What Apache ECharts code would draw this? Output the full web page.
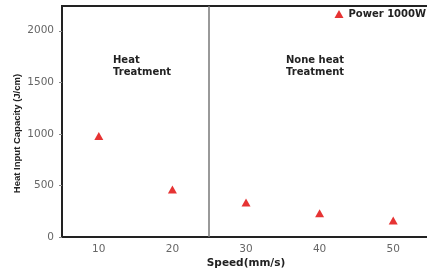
<!DOCTYPE html>
<html>
<head>
<meta charset="utf-8">
<script src="https://cdn.jsdelivr.net/npm/echarts@6/dist/echarts.min.js"></script>
<style>
  html, body { margin: 0; padding: 0; background: #fff; }
  #main { width: 427px; height: 271px; }
</style>
</head>
<body>
<div id="main"></div>
<script>
const speeds = [10, 20, 30, 40, 50];
const heatInput = [980, 460, 335, 230, 160];
const seriesName = "Power 1000W";
// boundary between the heat / none heat regions
const dividerSpeed = 25;

const chartDom = document.getElementById("main");
const myChart = echarts.init(chartDom);
let option;

const wideFont = "'DejaVu Sans', sans-serif";
const narrowFont = "'Liberation Sans Narrow', 'Liberation Sans', sans-serif";

option = {
  animation: false,
  grid: {
    left: 62,
    top: 6,
    right: -3,
    bottom: 34,
    outerBoundsMode: "none",
    show: true,
    borderColor: "#222",
    borderWidth: 2,
  },
  legend: {
    data: [{ name: seriesName, icon: "triangle" }],
    right: 0,
    top: 9,
    padding: [0, 1, 0, 0],
    itemWidth: 9,
    itemHeight: 8,
    itemGap: 4,
    textStyle: {
      fontFamily: wideFont,
      fontWeight: "bold",
      fontSize: 10,
      color: "#222",
    },
  },
  xAxis: [
    {
      // visible axis: labels at 10..50, ticks between them
      type: "category",
      data: speeds.map(String),
      boundaryGap: true,
      name: "Speed(mm/s)",
      nameLocation: "middle",
      nameGap: 21,
      nameMoveOverlap: false,
      nameTextStyle: {
        fontFamily: wideFont,
        fontWeight: "bold",
        fontSize: 10.5,
        color: "#222",
      },
      axisLine: { lineStyle: { color: "#222", width: 2 } },
      axisTick: { length: 3, lineStyle: { color: "#888" } },
      axisLabel: {
        fontFamily: wideFont,
        fontSize: 10.5,
        color: "#666",
        margin: 7,
      },
      splitLine: { show: false },
    },
    {
      // hidden value axis used to place points and the divider
      type: "value",
      min: 5,
      max: 55,
      show: false,
      position: "bottom",
    },
  ],
  yAxis: {
    type: "value",
    min: 0,
    max: 2240,
    interval: 500,
    name: "Heat Input Capacity (J/cm)",
    nameLocation: "middle",
    nameGap: 40,
    nameMoveOverlap: false,
    nameTextStyle: {
      fontFamily: narrowFont,
      fontWeight: "bold",
      fontSize: 9.5,
      color: "#222",
      padding: [0, 0, 0, -24],
    },
    axisLine: { show: true, lineStyle: { color: "#222", width: 2 } },
    axisTick: { show: true, length: 3, lineStyle: { color: "#888" } },
    axisLabel: {
      fontFamily: wideFont,
      fontSize: 10.5,
      color: "#666",
      margin: 8,
      showMaxLabel: false,
      formatter: (v) => String(v),
    },
    splitLine: { show: false },
  },
  graphic: [
    {
      type: "text",
      left: 113,
      top: 54,
      style: {
        text: "Heat\nTreatment",
        font: "bold 10px 'DejaVu Sans', sans-serif",
        fill: "#222",
        lineHeight: 12,
      },
    },
    {
      type: "text",
      left: 286,
      top: 54,
      style: {
        text: "None heat\nTreatment",
        font: "bold 10px 'DejaVu Sans', sans-serif",
        fill: "#222",
        lineHeight: 12,
      },
    },
  ],
  series: [
    {
      name: seriesName,
      type: "scatter",
      xAxisIndex: 1,
      data: speeds.map((s, i) => [s, heatInput[i]]),
      symbol: "triangle",
      symbolSize: [9, 8],
      color: "#e00000",
      markLine: {
        silent: true,
        symbol: "none",
        label: { show: false },
        lineStyle: { color: "#777", width: 1.5, type: "solid" },
        data: [{ xAxis: dividerSpeed }],
      },
    },
  ],
};

option && myChart.setOption(option);
</script>
</body>
</html>
